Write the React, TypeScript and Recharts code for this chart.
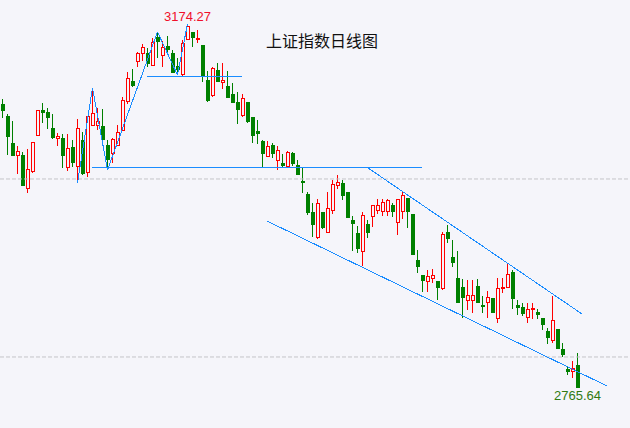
import { ComposedChart, Bar, XAxis, YAxis, ReferenceLine, ReferenceDot } from "recharts"

const opens = [
  3084.3, 3070.8, 3040.4, 3025.8, 3027.0, 2988.8, 3007.9, 3048.3, 3077.5, 3075.3,
  3057.3, 3044.9, 3046.1, 3012.4, 3036.0, 3013.5, 3043.8, 3006.7, 3059.6, 3059.6,
  3059.6, 3038.2, 3028.1, 3037.1, 3053.9, 3086.5, 3110.1, 3131.5, 3140.4, 3141.6,
  3127.0, 3159.5, 3138.2, 3149.4, 3141.6, 3127.0, 3116.9, 3156.2, 3165.2, 3156.2,
  3150.6, 3111.2, 3093.3, 3122.5, 3107.9, 3104.5, 3095.5, 3086.5, 3070.8, 3086.5,
  3069.7, 3053.9, 3042.7, 3024.7, 3038.2, 3020.2, 3018.0, 3013.5, 3029.2, 3015.7,
  2997.8, 2983.1, 2962.9, 2933.7, 2962.9, 2939.3, 2964.0, 2992.1, 2995.5, 2985.4,
  2953.9, 2939.3, 2918.0, 2949.4, 2957.3, 2964.0, 2962.9, 2962.9, 2970.8, 2950.6,
  2962.9, 2978.7, 2960.7, 2909.0, 2892.1, 2884.3, 2887.6, 2885.4, 2876.4, 2940.4,
  2912.4, 2888.8, 2878.7, 2862.9, 2862.9, 2879.8, 2858.4, 2860.7, 2866.3, 2842.7,
  2876.4, 2877.5, 2895.5, 2858.4, 2856.2, 2843.8, 2852.8, 2850.6, 2843.8, 2829.2,
  2818.0, 2831.5, 2809.0, 2786.5, 2783.1, 2791.0,
]
const highs = [
  3089.9, 3073.0, 3065.2, 3037.1, 3030.3, 3033.7, 3041.6, 3077.5, 3085.4, 3079.8,
  3073.0, 3051.7, 3050.6, 3050.6, 3043.8, 3067.4, 3052.8, 3070.8, 3102.2, 3079.8,
  3078.7, 3043.8, 3046.1, 3060.7, 3092.1, 3120.2, 3123.6, 3142.7, 3151.7, 3147.2,
  3158.4, 3165.2, 3155.1, 3160.7, 3144.9, 3136.0, 3156.2, 3174.27, 3165.2, 3167.4,
  3150.6, 3121.3, 3125.8, 3130.3, 3130.3, 3121.3, 3107.9, 3097.8, 3095.5, 3086.5,
  3069.7, 3066.3, 3043.8, 3042.7, 3040.4, 3037.1, 3028.1, 3031.5, 3030.3, 3021.3,
  3012.4, 2985.4, 2973.0, 2977.5, 2962.9, 2985.4, 2998.9, 3004.5, 2998.9, 2985.4,
  2958.4, 2947.2, 2962.9, 2953.9, 2970.8, 2977.5, 2977.5, 2977.5, 2973.0, 2977.5,
  2986.5, 2978.7, 2960.7, 2920.2, 2892.1, 2897.8, 2898.9, 2885.4, 2940.4, 2948.3,
  2931.5, 2919.1, 2887.6, 2886.5, 2886.5, 2887.6, 2868.5, 2874.2, 2866.3, 2888.8,
  2888.8, 2904.5, 2897.8, 2864.0, 2860.7, 2860.7, 2860.7, 2853.9, 2843.8, 2832.6,
  2868.5, 2831.5, 2815.7, 2789.9, 2795.5, 2804.5,
]
const lows = [
  3068.5, 3027.0, 3025.8, 3005.6, 2992.1, 2984.3, 3006.7, 3048.3, 3062.9, 3056.2,
  3044.9, 3037.1, 3012.4, 3009.0, 3013.5, 2995.5, 3004.5, 3002.2, 3059.6, 3055.1,
  3042.7, 3010.1, 3018.0, 3037.1, 3053.9, 3084.3, 3103.4, 3125.8, 3132.6, 3125.8,
  3127.0, 3136.0, 3125.8, 3139.3, 3119.1, 3116.9, 3115.7, 3156.2, 3148.3, 3152.8,
  3109.0, 3086.5, 3092.1, 3109.0, 3101.1, 3091.0, 3085.4, 3061.8, 3069.7, 3062.9,
  3040.4, 3039.3, 3012.4, 3024.7, 3023.6, 3010.1, 3013.5, 3013.5, 3014.6, 3004.5,
  2984.3, 2959.6, 2934.8, 2932.6, 2943.8, 2939.3, 2960.7, 2988.8, 2976.4, 2956.2,
  2919.1, 2916.9, 2902.2, 2933.7, 2946.1, 2960.7, 2958.4, 2958.4, 2957.3, 2937.1,
  2955.1, 2944.9, 2914.6, 2894.4, 2873.0, 2873.0, 2883.1, 2864.0, 2875.3, 2928.1,
  2901.1, 2860.7, 2843.8, 2852.8, 2849.4, 2860.7, 2849.4, 2843.8, 2849.4, 2838.2,
  2871.9, 2877.5, 2853.9, 2847.2, 2846.1, 2838.2, 2842.7, 2842.7, 2830.3, 2814.6,
  2815.7, 2809.0, 2800.0, 2779.8, 2776.4, 2765.64,
]
const closes = [
  3076.4, 3047.2, 3025.8, 3031.5, 2992.1, 3011.2, 3041.6, 3077.5, 3074.2, 3068.5,
  3046.1, 3048.3, 3025.8, 3034.8, 3018.0, 3057.3, 3005.6, 3070.8, 3074.2, 3065.2,
  3043.8, 3021.3, 3044.9, 3052.8, 3088.8, 3113.5, 3104.5, 3141.6, 3148.3, 3129.2,
  3153.9, 3153.9, 3148.3, 3144.9, 3119.1, 3122.5, 3152.8, 3171.9, 3158.4, 3158.4,
  3115.7, 3087.6, 3124.7, 3109.0, 3111.2, 3091.0, 3085.4, 3077.5, 3091.0, 3064.0,
  3048.3, 3050.6, 3028.1, 3037.1, 3028.1, 3032.6, 3014.6, 3030.3, 3016.9, 3004.5,
  2995.5, 2961.8, 2948.3, 2973.0, 2944.9, 2967.4, 2994.4, 2996.6, 2980.9, 2956.2,
  2949.4, 2921.3, 2959.6, 2939.3, 2970.8, 2970.8, 2974.2, 2976.4, 2962.9, 2977.5,
  2982.0, 2962.9, 2914.6, 2901.1, 2885.4, 2891.0, 2892.1, 2877.5, 2938.2, 2932.6,
  2905.6, 2860.7, 2866.3, 2869.7, 2869.7, 2860.7, 2856.2, 2867.4, 2849.4, 2877.5,
  2878.7, 2893.3, 2865.2, 2855.1, 2848.3, 2853.9, 2855.1, 2847.2, 2836.0, 2821.3,
  2841.6, 2809.0, 2802.2, 2783.1, 2787.6, 2765.64,
]

// zigzag swing points (candle index, price)
const zigzag = [
  { idx: 15, price: 2995.5 },
  { idx: 18, price: 3102.2 },
  { idx: 21, price: 3010.1 },
  { idx: 31, price: 3165.2 },
  { idx: 35, price: 3116.9 },
  { idx: 37, price: 3174.27 },
]
const supportLines = [
  [{ idx: 17.9, price: 3012.4 }, { idx: 83.9, price: 3012.4 }],
  [{ idx: 28.9, price: 3115.7 }, { idx: 47.9, price: 3115.7 }],
]
const channelLines = [
  [{ idx: 73.1, price: 3012.4 }, { idx: 115.9, price: 2848.3 }],
  [{ idx: 52.9, price: 2952.8 }, { idx: 120.9, price: 2767.4 }],
]
const gridLevels = [3000, 2800]
const highLabel = { idx: 37, price: 3174.27, text: "3174.27" }
const lowLabel = { idx: 115, price: 2765.64, text: "2765.64" }

const BG = "#f5f5fa"
const UP = "#ff0000"
const DOWN = "#008000"
const BLUE = "#1a8cff"

const candles = opens.map((open, i) => ({
  idx: i,
  open,
  high: highs[i],
  low: lows[i],
  close: closes[i],
  range: [lows[i], highs[i]],
}))

function Candle(props: any) {
  const { x, y, width, height, payload } = props
  if (!payload) return null
  const { open, close, high, low } = payload
  const top = Math.min(y, y + height)
  const span = Math.abs(height)
  const unit = high === low ? 0 : span / (high - low)
  const cx = x + width / 2
  const up = close >= open
  const color = up ? UP : DOWN
  const bTop = Math.round(top + (high - Math.max(open, close)) * unit)
  const bBot = Math.round(top + (high - Math.min(open, close)) * unit)
  const wTop = Math.round(top)
  const wBot = Math.round(top + span)
  return (
    <g shapeRendering="crispEdges">
      <line x1={cx} x2={cx} y1={wTop} y2={wBot} stroke={color} strokeWidth={1} />
      {up ? (
        <rect
          x={cx - 1}
          y={bTop + 0.5}
          width={3}
          height={Math.max(bBot - bTop - 1, 1)}
          fill={BG}
          stroke={color}
          strokeWidth={1}
        />
      ) : (
        <rect x={cx - 1.5} y={bTop} width={4} height={Math.max(bBot - bTop, 1)} fill={color} />
      )}
    </g>
  )
}

export default function App() {
  return (
    <div style={{ position: "absolute", left: 0, top: 0, width: 630, height: 428, background: BG }}>
      <ComposedChart
        width={630}
        height={428}
        data={candles}
        margin={{ top: 0, right: 0, bottom: 0, left: 0 }}
      >
        <XAxis dataKey="idx" type="number" domain={[-0.5, 125.5]} hide />
        <YAxis type="number" domain={[2720.2, 3201.1]} allowDataOverflow hide />
        {gridLevels.map((g) => (
          <ReferenceLine key={g} y={g} stroke="#c4c4c8" strokeDasharray="4 2" />
        ))}
        <Bar dataKey="range" barSize={4} shape={<Candle />} isAnimationActive={false} />
        {supportLines.map((seg, i) => (
          <ReferenceLine
            key={"s" + i}
            segment={seg.map((p) => ({ x: p.idx, y: p.price }))}
            stroke={BLUE}
            strokeWidth={1}
            shapeRendering="crispEdges"
          />
        ))}
        {channelLines.map((seg, i) => (
          <ReferenceLine
            key={"c" + i}
            segment={seg.map((p) => ({ x: p.idx, y: p.price }))}
            stroke={BLUE}
            strokeWidth={1}
            shapeRendering="crispEdges"
          />
        ))}
        {zigzag.slice(1).map((p, i) => (
          <ReferenceLine
            key={"z" + i}
            segment={[
              { x: zigzag[i].idx, y: zigzag[i].price },
              { x: p.idx, y: p.price },
            ]}
            stroke={BLUE}
            strokeWidth={1}
            shapeRendering="crispEdges"
          />
        ))}
        <ReferenceDot
          x={highLabel.idx}
          y={highLabel.price}
          r={0}
          fill="none"
          stroke="none"
          label={{
            value: highLabel.text,
            position: "top",
            offset: 3,
            fill: "#f0102a",
            fontSize: 13,
            fontFamily: "Liberation Sans, Arial, sans-serif",
          }}
        />
        <ReferenceDot
          x={lowLabel.idx}
          y={lowLabel.price}
          r={0}
          fill="none"
          stroke="none"
          label={{
            value: lowLabel.text,
            position: "bottom",
            offset: 3,
            fill: "#2f7a12",
            fontSize: 13,
            fontFamily: "Liberation Sans, Arial, sans-serif",
          }}
        />
      </ComposedChart>
      <div
        style={{
          position: "absolute",
          left: 266,
          top: 31,
          fontSize: 16,
          lineHeight: "18px",
          color: "#111",
          fontFamily: "'Noto Sans CJK SC', sans-serif",
          whiteSpace: "nowrap",
        }}
      >
        上证指数日线图
      </div>
    </div>
  )
}
